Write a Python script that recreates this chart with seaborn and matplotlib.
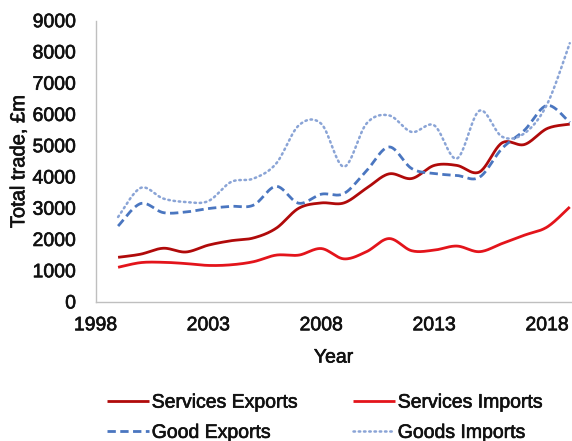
import numpy as np
import pandas as pd
import matplotlib
matplotlib.use("Agg")
import matplotlib.pyplot as plt
import matplotlib.patheffects as pe
import seaborn as sns

years = list(range(1999, 2020))

services_exports = [1430, 1530, 1720, 1600, 1820, 1960, 2050, 2360, 3000, 3170, 3170,
                    3640, 4100, 3950, 4370, 4370, 4160, 5090, 5040, 5550, 5690]
services_imports = [1110, 1260, 1270, 1230, 1170, 1190, 1290, 1500, 1500, 1710, 1380,
                    1610, 2030, 1640, 1660, 1790, 1610, 1870, 2140, 2400, 3040]
goods_exports = [2430, 3150, 2860, 2880, 2990, 3060, 3100, 3700, 3160, 3450, 3470,
                 4200, 4960, 4270, 4110, 4050, 3990, 4910, 5500, 6290, 5740]
goods_imports = [2720, 3650, 3310, 3200, 3230, 3840, 3950, 4430, 5650, 5700, 4330,
                 5710, 5970, 5440, 5650, 4590, 6120, 5290, 5400, 6330, 8280]

series_names = ["Services Exports", "Services Imports", "Good Exports", "Goods Imports"]
series_values = [services_exports, services_imports, goods_exports, goods_imports]
series_colors = ["#B00A0A", "#E3141B", "#4A76C0", "#8AA4D6"]

x_ticks = [1998, 2003, 2008, 2013, 2018]
y_ticks = list(range(0, 9001, 1000))


def smooth_curve(x, y, steps=24):
    """Catmull-Rom spline through the points, like a smoothed line chart."""
    x = np.asarray(x, float)
    y = np.asarray(y, float)
    px = np.concatenate([[x[0]], x, [x[-1]]])
    py = np.concatenate([[y[0]], y, [y[-1]]])
    xs, ys = [], []
    t = np.linspace(0, 1, steps, endpoint=False)
    h00 = 2 * t**3 - 3 * t**2 + 1
    h10 = t**3 - 2 * t**2 + t
    h01 = -2 * t**3 + 3 * t**2
    h11 = t**3 - t**2
    for i in range(1, len(px) - 2):
        for src, arr in ((px, xs), (py, ys)):
            a0, a1, a2, a3 = src[i - 1], src[i], src[i + 1], src[i + 2]
            m1 = (a2 - a0) / 2
            m2 = (a3 - a1) / 2
            arr.extend(h00 * a1 + h10 * m1 + h01 * a2 + h11 * m2)
    xs.append(x[-1])
    ys.append(y[-1])
    return np.array(xs), np.array(ys)


sns.set_theme(style="white")
plt.rcParams["font.family"] = ["Liberation Sans", "DejaVu Sans"]
FS = 14
heavier = [pe.withStroke(linewidth=0.45, foreground="#111111")]

fig = plt.figure(figsize=(5.72, 4.41), dpi=100)
ax = fig.add_axes([95.5 / 572, 139 / 441, (572 - 95.5) / 572, (302 - 20.7) / 441])

styles = [
    dict(lw=2.0, dashes=None),
    dict(lw=2.0, dashes=None),
    dict(lw=2.0, dashes=(3.0, 1.6)),
    dict(lw=1.8, dashes=(0.6, 1.5)),
]

handles = {}
for name, vals, color, st in zip(series_names, series_values, series_colors, styles):
    sx, sy = smooth_curve(years, vals)
    df = pd.DataFrame({"Year": sx, "Value": sy})
    sns.lineplot(data=df, x="Year", y="Value", ax=ax, color=color,
                 linewidth=st["lw"], sort=False, label=name, legend=False)
    ln = ax.lines[-1]
    if st["dashes"] is not None:
        ln.set_dashes(st["dashes"])
    ln.set_solid_capstyle("butt")
    ln.set_dash_capstyle("round" if name == "Goods Imports" else "butt")
    handles[name] = ln

ax.set_xlim(1998, 2019.1)
ax.set_ylim(0, 9000)
ax.set_xticks(x_ticks)
ax.set_yticks(y_ticks)
ax.tick_params(axis="y", length=0, labelsize=FS, pad=14)
ax.tick_params(axis="x", length=0, labelsize=FS, pad=11)

for side in ("top", "right"):
    ax.spines[side].set_visible(False)
for side in ("left", "bottom"):
    ax.spines[side].set_color("#BFBFBF")
    ax.spines[side].set_linewidth(1.0)
ax.grid(False)

ax.set_xlabel("Year", fontsize=FS, labelpad=11)
ax.set_ylabel("Total trade, £m", fontsize=FS + 0.5, labelpad=3)

# two columns, filled row by row
order = ["Services Exports", "Good Exports", "Services Imports", "Goods Imports"]
leg = fig.legend([handles[n] for n in order], order, loc="upper left",
                 bbox_to_anchor=(107 / 572, 1 - 394 / 441), ncol=2, frameon=False,
                 fontsize=FS, handlelength=2.15, handletextpad=0.15,
                 columnspacing=2.8, labelspacing=0.65, borderpad=0, borderaxespad=0)

for txt in (ax.get_xticklabels() + ax.get_yticklabels() + leg.get_texts()
            + [ax.xaxis.label, ax.yaxis.label]):
    txt.set_color("#111111")
    txt.set_path_effects(heavier)

fig.savefig("out.png", dpi=100)
